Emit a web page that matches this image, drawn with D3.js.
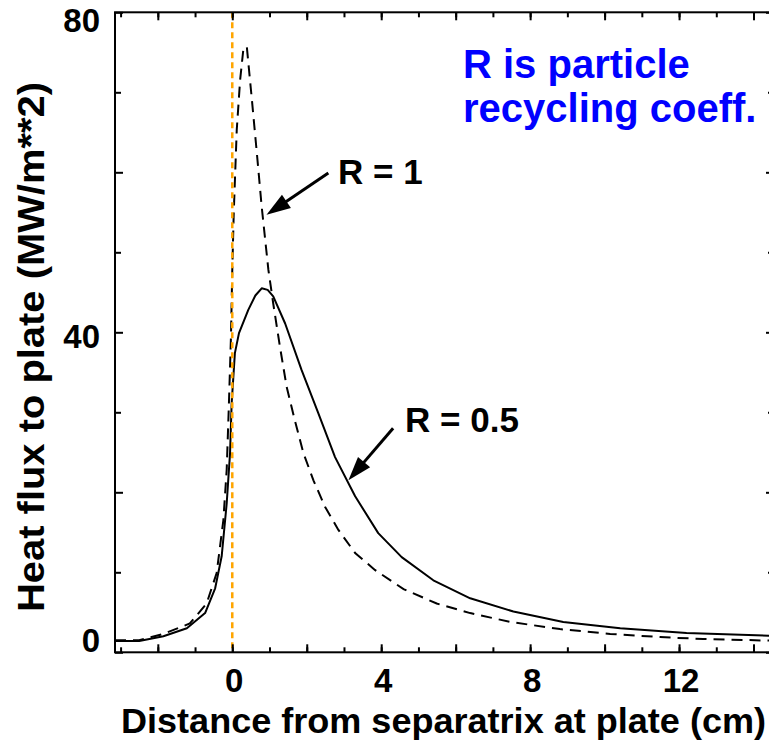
<!DOCTYPE html>
<html>
<head>
<meta charset="utf-8">
<script src="https://cdn.jsdelivr.net/npm/d3@7/dist/d3.min.js"></script>
<style>
  html, body { margin: 0; padding: 0; background: #ffffff; }
  svg { display: block; }
  text { font-family: "Liberation Sans", Arial, Helvetica, sans-serif; font-weight: bold; }
</style>
</head>
<body>
<svg id="chart" width="769" height="748"></svg>
<script>
// Heat flux profiles along the divertor plate for two recycling coefficients.

// R = 0.5 (solid)
const distR05 = [-3.15, -2.5, -1.85, -1.22, -0.73, -0.46, -0.285, -0.15, -0.06, -0.017, 0.07, 0.18, 0.43, 0.62, 0.79, 0.95, 1.10, 1.42, 1.86, 2.31, 2.76, 3.30, 3.92, 4.55, 5.4, 6.39, 7.55, 8.89, 10.42, 12.2, 14.55];
const fluxR05 = [1.4, 1.4, 2.0, 3.0, 4.9, 8.0, 12.0, 18.6, 24.9, 31.1, 37.4, 39.9, 42.8, 44.6, 45.5, 45.3, 44.5, 41.1, 35.3, 29.9, 24.4, 19.5, 14.9, 11.9, 9.0, 6.75, 5.1, 3.8, 3.0, 2.4, 2.05];

// R = 1 (dashed)
const distR1 = [-3.15, -2.5, -1.85, -1.14, -0.69, -0.42, -0.24, -0.15, -0.09, -0.035, 0.0, 0.04, 0.12, 0.21, 0.30, 0.39, 0.52, 0.66, 0.79, 0.97, 1.10, 1.28, 1.46, 1.68, 1.91, 2.18, 2.49, 2.85, 3.30, 3.83, 4.6, 5.49, 6.39, 7.46, 8.8, 10.15, 11.49, 12.65, 14.55];
const fluxR1 = [1.5, 1.5, 2.3, 3.6, 6.1, 9.9, 16.5, 22.8, 31.1, 39.5, 47.8, 55.0, 65.3, 71.5, 75.5, 75.7, 69.4, 62.4, 55.7, 47.8, 43.6, 38.2, 33.2, 29.0, 24.9, 21.5, 18.2, 15.3, 12.4, 10.3, 7.9, 6.1, 4.9, 3.8, 2.9, 2.3, 1.9, 1.66, 1.45];

// Separatrix position at the plate
const separatrixX = [0];

// Axis ticks
const xMinorTicks = d3.range(-3, 15, 1);
const xMajorTicks = d3.range(-2, 15, 2);
const xTickLabels = [0, 4, 8, 12];
const yMinorTicks = [10, 30, 50, 70];
const yMajorTicks = [0, 20, 40, 60, 80];
const yTickLabels = [0, 40, 80];

const xTitle = "Distance from separatrix at plate (cm)";
const yTitle = "Heat flux to plate (MW/m**2)";
const noteLines = ["R is particle", "recycling coeff."];

// Curve annotations: label anchor and arrow from -> to, in data units
const curveNotes = [
  { text: "R = 1",   label: [2.84, 58.6], from: [2.58, 59.9], to: [0.92, 54.7] },
  { text: "R = 0.5", label: [4.64, 27.6], from: [4.32, 28.0], to: [3.12, 21.5] }
];

const svg = d3.select("#chart");
const W = 769, H = 748;
const plot = { left: 115, right: 774, top: 12.3, bottom: 652.3 };

const x = d3.scaleLinear().domain([-3.15, 14.55]).range([plot.left, plot.right]);
const y = d3.scaleLinear().domain([0, 80]).range([plot.bottom, plot.top]);

svg.append("rect").attr("width", W).attr("height", H).attr("fill", "#ffffff");

// Curves
const line = d3.line().x(d => x(d[0])).y(d => y(d[1])).curve(d3.curveLinear);
const solidPts = distR05.map((d, i) => [d, fluxR05[i]]);
const dashPts = distR1.map((d, i) => [d, fluxR1[i]]);

svg.append("defs").append("clipPath").attr("id", "plotClip")
  .append("rect").attr("x", plot.left).attr("y", plot.top)
  .attr("width", plot.right - plot.left).attr("height", plot.bottom - plot.top);

const g = svg.append("g").attr("clip-path", "url(#plotClip)");

g.append("path").datum(solidPts)
  .attr("d", line).attr("fill", "none").attr("stroke", "#000")
  .attr("stroke-width", 2).attr("stroke-linejoin", "round");

g.append("path").datum(dashPts)
  .attr("d", line).attr("fill", "none").attr("stroke", "#000")
  .attr("stroke-width", 2).attr("stroke-dasharray", "11,7");

// Separatrix marker
g.selectAll("line.sep").data(separatrixX).enter().append("line")
  .attr("class", "sep")
  .attr("x1", d => x(d)).attr("x2", d => x(d))
  .attr("y1", plot.top).attr("y2", plot.bottom)
  .attr("stroke", "#ffa500").attr("stroke-width", 2.5)
  .attr("stroke-dasharray", "6,4");

// Axes: ticks point inward on all four sides
function tickAxis(gen, scale, vals, size, tr) {
  svg.append("g").attr("transform", tr)
    .call(gen(scale).tickValues(vals).tickSizeInner(size).tickSizeOuter(0).tickFormat(""))
    .call(s => s.select(".domain").remove())
    .call(s => s.selectAll(".tick line").attr("stroke", "#000").attr("stroke-width", 2));
}
tickAxis(d3.axisBottom, x, xMinorTicks, -5, `translate(0,${plot.bottom})`);
tickAxis(d3.axisBottom, x, xMajorTicks, -8, `translate(0,${plot.bottom})`);
tickAxis(d3.axisTop, x, xMinorTicks, -5, `translate(0,${plot.top})`);
tickAxis(d3.axisTop, x, xMajorTicks, -8, `translate(0,${plot.top})`);
tickAxis(d3.axisLeft, y, yMinorTicks, -6, `translate(${plot.left},0)`);
tickAxis(d3.axisLeft, y, yMajorTicks, -8, `translate(${plot.left},0)`);
tickAxis(d3.axisRight, y, yMinorTicks, -6, `translate(${plot.right},0)`);
tickAxis(d3.axisRight, y, yMajorTicks, -8, `translate(${plot.right},0)`);

// Frame
svg.append("rect")
  .attr("x", plot.left).attr("y", plot.top)
  .attr("width", plot.right - plot.left).attr("height", plot.bottom - plot.top)
  .attr("fill", "none").attr("stroke", "#000").attr("stroke-width", 2);

// Tick labels
svg.append("g").selectAll("text").data(xTickLabels).enter().append("text")
  .attr("x", d => x(d) + 2).attr("y", 692)
  .attr("text-anchor", "middle").attr("font-size", 33).attr("fill", "#000")
  .text(d => d);

const yMax = d3.max(yTickLabels), yMin = d3.min(yTickLabels);
svg.append("g").selectAll("text").data(yTickLabels).enter().append("text")
  .attr("x", 100)
  .attr("y", d => y(d) + (d === yMax ? 20 : d === yMin ? 0 : 16))
  .attr("text-anchor", "end").attr("font-size", 33).attr("fill", "#000")
  .text(d => d);

// Axis titles
svg.append("text")
  .attr("x", 121).attr("y", 733)
  .attr("font-size", 35).attr("fill", "#000")
  .attr("textLength", 645).attr("lengthAdjust", "spacingAndGlyphs")
  .text(xTitle);

svg.append("text")
  .attr("transform", "translate(44,612) rotate(-90)")
  .attr("font-size", 36).attr("fill", "#000")
  .attr("textLength", 530).attr("lengthAdjust", "spacingAndGlyphs")
  .text(yTitle);

// Curve labels with arrows
const arrowHead = (from, to, len, half) => {
  const [x1, y1] = [x(from[0]), y(from[1])];
  const [x2, y2] = [x(to[0]), y(to[1])];
  const a = Math.atan2(y2 - y1, x2 - x1);
  const bx = x2 - len * Math.cos(a), by = y2 - len * Math.sin(a);
  const px = -Math.sin(a) * half, py = Math.cos(a) * half;
  return `M${x2},${y2}L${bx + px},${by + py}L${bx - px},${by - py}Z`;
};

curveNotes.forEach(n => {
  svg.append("text")
    .attr("x", x(n.label[0])).attr("y", y(n.label[1]))
    .attr("font-size", 35).attr("fill", "#000").text(n.text);
  const a = Math.atan2(y(n.to[1]) - y(n.from[1]), x(n.to[0]) - x(n.from[0]));
  svg.append("line")
    .attr("x1", x(n.from[0])).attr("y1", y(n.from[1]))
    .attr("x2", x(n.to[0]) - 18 * Math.cos(a)).attr("y2", y(n.to[1]) - 18 * Math.sin(a))
    .attr("stroke", "#000").attr("stroke-width", 3);
  svg.append("path").attr("d", arrowHead(n.from, n.to, 24, 8)).attr("fill", "#000");
});

// Explanatory note
svg.append("g").selectAll("text").data(noteLines).enter().append("text")
  .attr("x", 463).attr("y", (d, i) => 78 + i * 44)
  .attr("font-size", 40).attr("fill", "#0000ff")
  .text(d => d);
</script>
</body>
</html>
